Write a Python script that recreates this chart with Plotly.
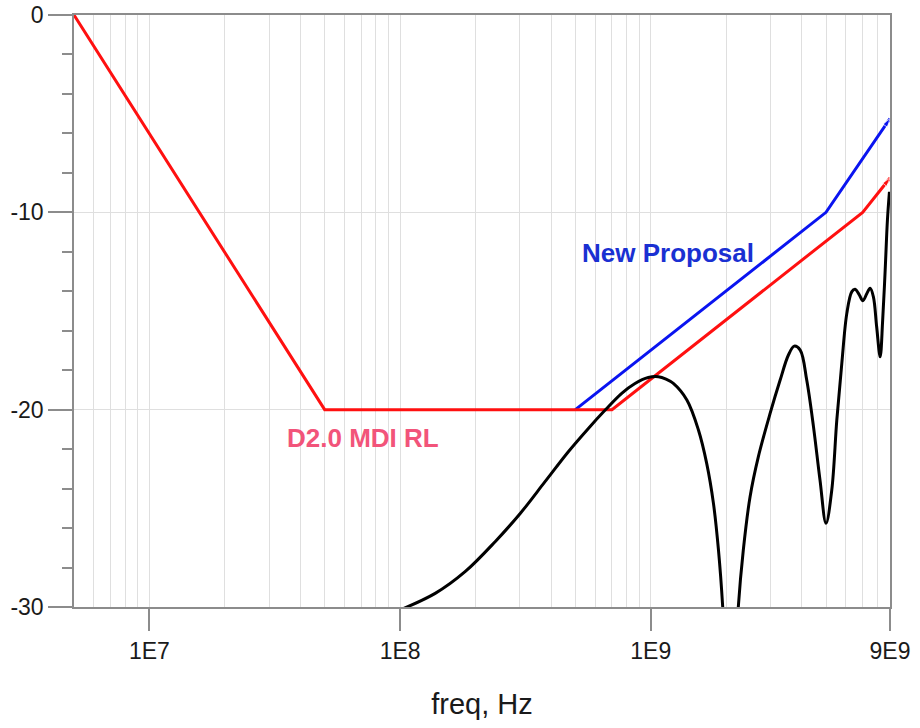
import numpy as np
import plotly.graph_objects as go

# Return-loss limit lines (frequency in Hz, level in dB)
d20_freq = [5e6, 5e7, 7e8, 7e9, 9e9]
d20_rl = [0, -20, -20, -10, -8.26]

proposal_freq = [5e8, 5e9, 9e9]
proposal_rl = [-20, -10, -5.25]

# Measured return loss
meas_freq = [1.00e8, 1.380e8, 1.816e8, 2.393e8, 3.013e8, 3.784e8, 4.688e8,
             5.636e8, 6.577e8, 7.656e8, 8.650e8, 9.772e8, 1.072e9, 1.15e9, 1.230e9,
             1.393e9, 1.549e9, 1.671e9, 1.778e9, 1.862e9, 1.936e9, 2.08e9, 2.234e9,
             2.339e9, 2.489e9, 2.685e9, 2.992e9, 3.281e9, 3.540e9, 3.733e9, 3.945e9,
             4.188e9, 4.457e9, 4.732e9, 5.000e9, 5.272e9, 5.521e9, 5.781e9, 6.053e9,
             6.339e9, 6.531e9, 6.792e9, 7.015e9, 7.278e9, 7.499e9, 7.727e9, 7.962e9,
             8.222e9, 8.414e9, 8.610e9, 8.790e9, 8.954e9]
meas_rl = [-30.15, -29.31, -28.21, -26.69, -25.26, -23.65, -22.13,
           -20.95, -20.02, -19.17, -18.67, -18.37, -18.33, -18.45, -18.67,
           -19.51, -21.03, -22.72, -24.75, -27.12, -30.0, -38.0, -30.0,
           -27.12, -24.41, -22.39, -20.19, -18.50, -17.23, -16.78, -16.98,
           -18.50, -20.87, -23.57, -25.76, -24.07, -20.53, -17.65, -15.12,
           -14.02, -13.90, -14.19, -14.48, -14.11, -13.85, -14.28, -15.80,
           -17.32, -15.46, -12.92, -10.39, -8.96]

x_tickvals = [1e7, 1e8, 1e9, 9e9]
x_ticktext = ["1E7", "1E8", "1E9", "9E9"]
y_tickvals = [0, -10, -20, -30]
y_ticktext = ["0", "-10", "-20", "-30"]

# gridlines at 1..9 of every decade inside the range
x_gridvals = [m * 10.0 ** e for e in range(6, 10) for m in range(1, 10)
              if 5e6 < m * 10.0 ** e < 9e9]

FONT = "Arial, Liberation Sans, sans-serif"
AXIS_GREY = "#8c8c8c"
GRID_GREY = "#dfdfdf"
XRANGE = [np.log10(5e6), np.log10(9e9)]

fig = go.Figure()

fig.add_trace(go.Scatter(
    x=proposal_freq, y=proposal_rl, mode="lines+markers",
    line=dict(color="#0a14f0", width=3),
    marker=dict(symbol="arrow", angleref="previous",
                size=[0] * (len(proposal_freq) - 1) + [9], color="#0a14f0"),
    hoverinfo="skip", showlegend=False))

fig.add_trace(go.Scatter(
    x=d20_freq, y=d20_rl, mode="lines+markers",
    line=dict(color="#ff1010", width=3),
    marker=dict(symbol="arrow", angleref="previous",
                size=[0] * (len(d20_freq) - 1) + [9], color="#ff1010"),
    hoverinfo="skip", showlegend=False))

fig.add_trace(go.Scatter(
    x=meas_freq, y=meas_rl, mode="lines",
    line=dict(color="#000000", width=3, shape="spline", smoothing=1.0),
    hoverinfo="skip", showlegend=False))

# empty trace so the tick-carrying overlay axis gets its own subplot
fig.add_trace(go.Scatter(x=[], y=[], xaxis="x2", yaxis="y",
                         hoverinfo="skip", showlegend=False))

fig.add_annotation(x=np.log10(1.17e9), y=-12.06, text="<b>New Proposal</b>",
                   showarrow=False, xref="x", yref="y",
                   font=dict(family=FONT, size=26, color="#1a30d2"))
fig.add_annotation(x=np.log10(7.1e7), y=-21.44, text="<b>D2.0 MDI RL</b>",
                   showarrow=False, xref="x", yref="y",
                   font=dict(family=FONT, size=26, color="#f2547a"))

fig.update_layout(
    xaxis=dict(
        type="log", range=XRANGE,
        tickvals=x_gridvals, showticklabels=False, ticks="",
        showgrid=True, gridcolor=GRID_GREY, gridwidth=1.2,
        showline=True, linecolor=AXIS_GREY, linewidth=1.5, mirror=True,
        zeroline=False,
    ),
    xaxis2=dict(
        type="log", range=XRANGE, overlaying="x", anchor="y", side="bottom",
        tickvals=x_tickvals, ticktext=x_ticktext,
        ticks="outside", ticklen=23, tickwidth=1.5, tickcolor=AXIS_GREY,
        ticklabelstandoff=0,
        showgrid=False, showline=False, zeroline=False,
        tickfont=dict(family=FONT, size=23, color="#1a1a1a"),
        title=dict(text="freq, Hz", standoff=31,
                   font=dict(family=FONT, size=29, color="#1a1a1a")),
    ),
    yaxis=dict(
        range=[-30, 0],
        tickvals=y_tickvals, ticktext=y_ticktext,
        ticks="outside", ticklen=24, tickwidth=1.5, tickcolor=AXIS_GREY,
        showgrid=True, gridcolor=GRID_GREY, gridwidth=1.2,
        showline=True, linecolor=AXIS_GREY, linewidth=1.5, mirror=True,
        zeroline=False,
        minor=dict(dtick=2, tick0=0, ticks="outside", ticklen=10,
                   tickwidth=1.5, tickcolor=AXIS_GREY, showgrid=False),
        tickfont=dict(family=FONT, size=23, color="#1a1a1a"),
    ),
    width=920, height=728,
    margin=dict(l=74, r=30, t=15, b=121, autoexpand=False),
    plot_bgcolor="white", paper_bgcolor="white",
    showlegend=False,
)

fig.write_html("out.html")
